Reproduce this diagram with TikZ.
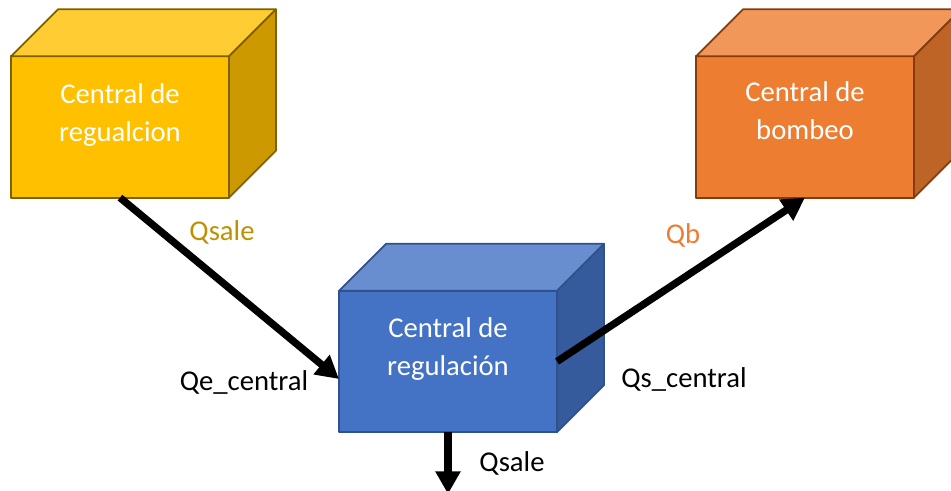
\documentclass[tikz,border=0pt]{standalone}
\usepackage{fontspec}
\setmainfont{Carlito}
\usetikzlibrary{arrows.meta}
\definecolor{ama}{HTML}{FFC000}
\definecolor{amaT}{HTML}{FFCD33}
\definecolor{amaS}{HTML}{CC9A00}
\definecolor{amaB}{HTML}{7F6000}
\definecolor{azu}{HTML}{4472C4}
\definecolor{azuT}{HTML}{698ED0}
\definecolor{azuS}{HTML}{365B9D}
\definecolor{azuB}{HTML}{2F528F}
\definecolor{nar}{HTML}{ED7D31}
\definecolor{narT}{HTML}{F1975A}
\definecolor{narS}{HTML}{BE6427}
\definecolor{narB}{HTML}{843C0C}
\definecolor{oro}{HTML}{BF9000}
% top and side faces of a box: node, top, side, border
\newcommand{\caja}[4]{%
  \filldraw[cara, fill=#2, draw=#4] (#1.north west) -- ++(47,-47) -- ([shift={(47,-47)}]#1.north east) -- (#1.north east) -- cycle;
  \filldraw[cara, fill=#3, draw=#4] (#1.north east) -- ++(47,-47) -- ([shift={(47,-47)}]#1.south east) -- (#1.south east) -- cycle;
}
\tikzset{
  frente/.style={draw, line width=1.3pt, line join=round, minimum width=163.5pt, minimum height=106pt, inner sep=0pt, outer sep=0pt},
  cara/.style={line width=1.3pt, line join=round},
  rotulo/.style={text=white, align=center, anchor=base},
  flujo/.style={line width=5.5pt, -{Triangle[width=18pt,length=17pt]}},
  etiq/.style={anchor=base},
}

\begin{document}
\begin{tikzpicture}[x=0.75pt, y=-0.75pt, every node/.style={font=\fontsize{21.5}{28.5}\selectfont}]
 \useasboundingbox (0,0) rectangle (951,491);
 % central de regulacion (amarilla)
 \node[frente, fill=ama, draw=amaB] (regA) at (120,127) {};
 \caja{regA}{amaT}{amaS}{amaB}
 \node[rotulo] (regAtxt) at (120,142) {Central de\\regualcion};
 % central de regulacion (azul)
 \node[frente, fill=azu, draw=azuB] (regB) at (448,361.5) {};
 \caja{regB}{azuT}{azuS}{azuB}
 \node[rotulo] (regBtxt) at (448,376) {Central de\\regulación};
 % central de bombeo
 \node[frente, fill=nar, draw=narB] (bomba) at (805,127) {};
 \caja{bomba}{narT}{narS}{narB}
 \node[rotulo] (bombatxt) at (805,140) {Central de\\bombeo};
 % flujos
 \coordinate (salida) at (448,494);
 \draw[flujo] (regA.south) -- ([shift={(0,17.5)}]regB.west);
 \draw[flujo] (regB.east) -- (bomba.south);
 \draw[flujo] (regB.south) -- (salida);
 \node[etiq, text=oro] (qsaleA) at (222,241) {Qsale};
 \node[etiq] (qe) at (244,391) {Qe\_central};
 \node[etiq] (qs) at (684,388) {Qs\_central};
 \node[etiq, text=nar] (qb) at (683,244) {Qb};
 \node[etiq] (qsaleB) at (512,472) {Qsale};
\end{tikzpicture}
\end{document}
